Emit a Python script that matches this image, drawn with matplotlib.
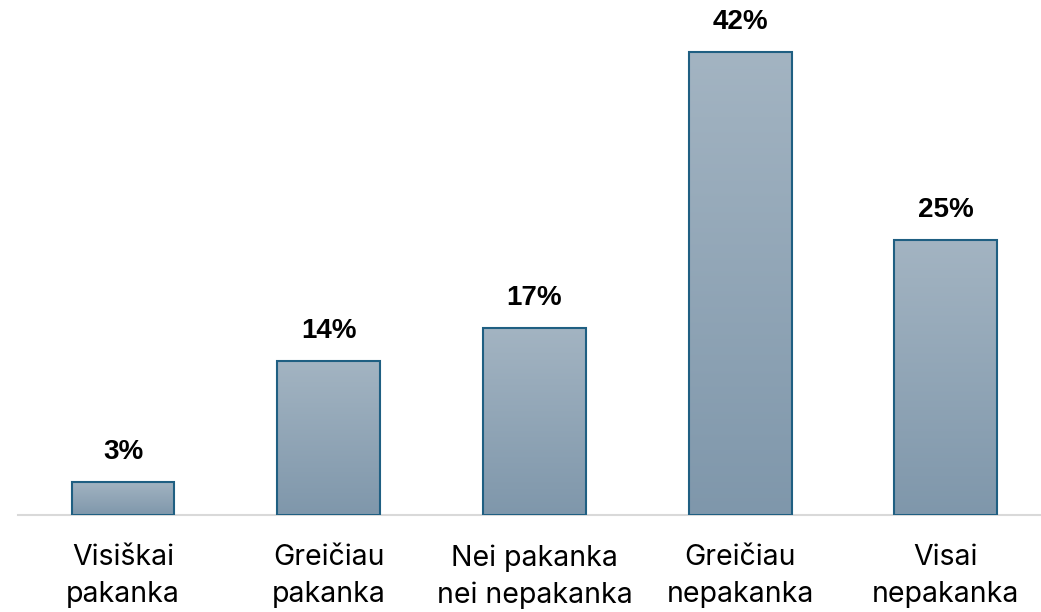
import numpy as np
import matplotlib
matplotlib.use("Agg")
import matplotlib.pyplot as plt
from matplotlib.colors import LinearSegmentedColormap

categories = ["Visiškai\npakanka", "Greičiau\npakanka", "Nei pakanka\nnei nepakanka",
              "Greičiau\nnepakanka", "Visai\nnepakanka"]
shares = [3, 14, 17, 42, 25]

fig = plt.figure(figsize=(10.41, 6.12), dpi=100)
ax = fig.add_axes([18 / 1041, 97 / 612, 1023 / 1041, 515 / 612])

x = np.arange(len(shares))
bars = ax.bar(x, shares, width=0.5, color="none", edgecolor="#1f5f82",
              linewidth=1.5, zorder=3)

# vertical gradient fill clipped to each bar
grad = LinearSegmentedColormap.from_list("bar", ["#7f97ab", "#a3b4c2"])
for b in bars:
    x0, y0 = b.get_x(), b.get_y()
    w, h = b.get_width(), b.get_height()
    img = ax.imshow(np.linspace(0, 1, 256).reshape(-1, 1), cmap=grad,
                    extent=[x0, x0 + w, y0, y0 + h], origin="lower",
                    aspect="auto", zorder=2)
    img.set_clip_path(b)

for xi, v in zip(x, shares):
    ax.annotate(f"{v}%", (xi, v), xytext=(0, 21.5), textcoords="offset points",
                ha="center", va="center", fontsize=20, fontweight="bold",
                family="Liberation Sans")

ax.set_xlim((18 - 123) / 205.7, (1041 - 123) / 205.7)
ax.set_ylim(0, 515 / 11.02)
ax.set_xticks(x)
ax.set_xticklabels(categories, fontsize=20.5, family="Inter", linespacing=1.45)
ax.tick_params(axis="x", length=0, pad=21)
ax.set_yticks([])
for s in ["top", "right", "left"]:
    ax.spines[s].set_visible(False)
ax.spines["bottom"].set_color("#d9d9d9")
ax.spines["bottom"].set_linewidth(1.5)
ax.patch.set_alpha(0)

fig.savefig("out.png", dpi=100)
